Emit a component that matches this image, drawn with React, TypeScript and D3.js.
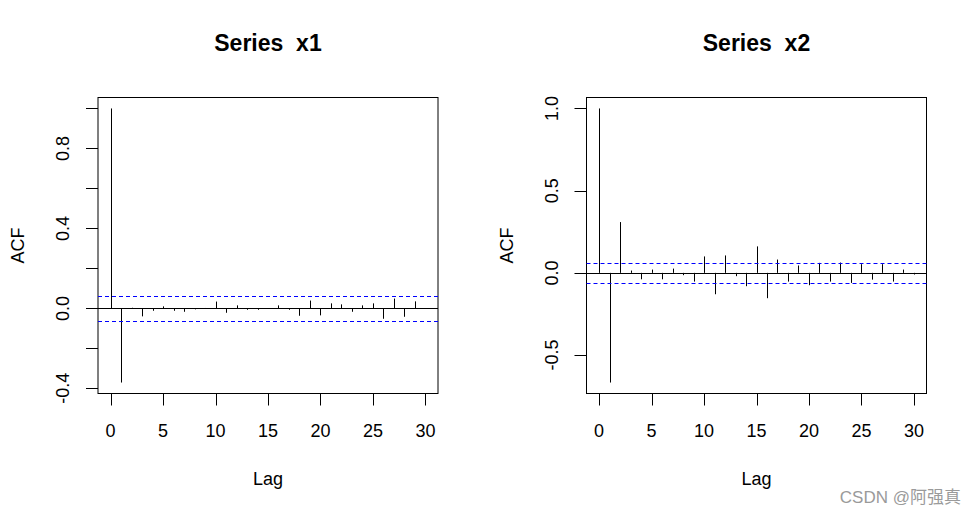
import React from "react";
import * as d3 from "d3";

const lags = d3.range(0, 31);
const acfX1 = [1.0, -0.371, 0.003, -0.04, -0.012, 0.01, -0.012, -0.017, -0.005, 0.002, 0.034, -0.022, 0.015, -0.007, -0.007, -0.002, 0.015, -0.007, -0.037, 0.039, -0.035, 0.025, 0.02, -0.017, 0.015, 0.025, -0.052, 0.049, -0.042, 0.035, 0.001];
const acfX2 = [1.0, -0.667, 0.309, 0.014, -0.039, 0.02, -0.039, 0.026, -0.014, -0.053, 0.1, -0.13, 0.106, -0.02, -0.081, 0.161, -0.154, 0.081, -0.053, 0.045, -0.075, 0.061, -0.053, 0.063, -0.061, 0.053, -0.041, 0.053, -0.053, 0.02, -0.01];
const clim = 0.062;
const xTicks = [0, 5, 10, 15, 20, 25, 30];
const yTicksX1 = [-0.4, -0.2, 0, 0.2, 0.4, 0.6, 0.8, 1.0];
const yLabelsX1 = [-0.4, 0, 0.4, 0.8];
const yTicksX2 = [-0.5, 0, 0.5, 1.0];
const titles = ["Series  x1", "Series  x2"];

const FONT = "'Liberation Sans', Arial, sans-serif";
const TOP = 97.5;
const BOTTOM = 393.5;
const WIDTH = 340;

function Panel({ left, values, yTicks, yLabels, title, fmt }: any) {
  const right = left + WIDTH;
  const ext = (a: number, b: number) => [a - 0.04 * (b - a), b + 0.04 * (b - a)];
  const x = d3.scaleLinear().domain(ext(0, 30)).range([left, right]);
  const ymin = Math.min(d3.min(values) as number, -clim);
  const ymax = Math.max(d3.max(values) as number, clim);
  const y = d3.scaleLinear().domain(ext(ymin, ymax)).range([BOTTOM, TOP]);
  const cx = (left + right) / 2;
  const axX = left - 12;
  return (
    <g>
      <text x={cx} y={51} textAnchor="middle" fontFamily={FONT} fontWeight="bold" fontSize={23} style={{ whiteSpace: "pre" }}>{title}</text>
      <rect x={left} y={TOP} width={WIDTH} height={BOTTOM - TOP} fill="none" stroke="#000" strokeWidth={1} />
      {lags.map((l, i) => (
        <line key={i} x1={Math.round(x(l)) + 0.5} x2={Math.round(x(l)) + 0.5} y1={y(0)} y2={y(values[i])} stroke="#000" strokeWidth={1} />
      ))}
      <line x1={left} x2={right} y1={Math.round(y(0)) + 0.5} y2={Math.round(y(0)) + 0.5} stroke="#000" />
      {[clim, -clim].map((c, i) => (
        <line key={i} x1={left} x2={right} y1={Math.round(y(c)) + 0.5} y2={Math.round(y(c)) + 0.5} stroke="#0000ff" strokeDasharray="4,3" />
      ))}
      {xTicks.map((t) => (
        <g key={t}>
          <line x1={Math.round(x(t)) + 0.5} x2={Math.round(x(t)) + 0.5} y1={BOTTOM} y2={BOTTOM + 12} stroke="#000" />
          <text x={x(t)} y={437} textAnchor="middle" fontFamily={FONT} fontSize={18}>{t}</text>
        </g>
      ))}
      {yTicks.map((t: number) => (
        <line key={t} x1={axX} x2={left} y1={Math.round(y(t)) + 0.5} y2={Math.round(y(t)) + 0.5} stroke="#000" />
      ))}
      {yLabels.map((t: number) => (
        <text key={t} transform={`translate(${left - 29},${y(t)}) rotate(-90)`} textAnchor="middle" fontFamily={FONT} fontSize={18}>{fmt(t)}</text>
      ))}
      <text x={cx} y={485} textAnchor="middle" fontFamily={FONT} fontSize={18}>Lag</text>
      <text transform={`translate(${left - 74},${(TOP + BOTTOM) / 2}) rotate(-90)`} textAnchor="middle" fontFamily={FONT} fontSize={18}>ACF</text>
    </g>
  );
}

export default function App() {
  const fmt = (v: number) => d3.format(".1f")(v).replace("\u2212", "-");
  return (
    <svg width={977} height={516} style={{ position: "absolute", left: 0, top: 0, background: "#fff" }}>
      <rect width={977} height={516} fill="#fff" />
      <Panel left={98} values={acfX1} yTicks={yTicksX1} yLabels={yLabelsX1} title={titles[0]} fmt={fmt} />
      <Panel left={586.5} values={acfX2} yTicks={yTicksX2} yLabels={yTicksX2} title={titles[1]} fmt={fmt} />
      <text x={961} y={503} textAnchor="end" fontFamily="'Liberation Sans', 'Noto Sans CJK SC', sans-serif" fontSize={17} fill="#9a9a9a">CSDN @阿强真</text>
    </svg>
  );
}
